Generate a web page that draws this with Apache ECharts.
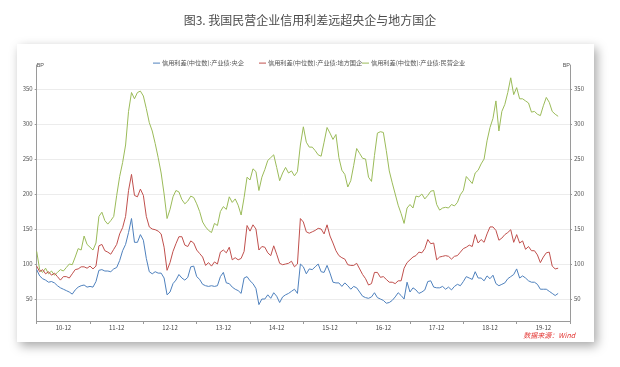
<!DOCTYPE html>
<html>
<head>
<meta charset="utf-8">
<script src="https://cdn.jsdelivr.net/npm/echarts@6/dist/echarts.min.js"></script>
<style>
html,body{margin:0;padding:0;background:#ffffff;}
#chart{width:620px;height:367px;}
</style>
</head>
<body>
<div id="chart"></div>
<script>
// ---- data ----
const tickLabels = ['10-12','11-12','12-12','13-12','14-12','15-12','16-12','17-12','18-12','19-12'];
const yTickValues = [50,100,150,200,250,300,350];
const seriesNames = ['信用利差(中位数):产业债:央企','信用利差(中位数):产业债:地方国企','信用利差(中位数):产业债:民营企业'];

const centralSOE = [92,83,79,77,74,75,73,69,66,64,62,60,57,63,67,69,70,67,68,67,75,91,92,90,90,89,93,95,105,119,
128,145,165,131,131,142,134,108,89,86,89,87,87,80,56,60,72,77,85,80,77,81,96,97,82,78,71,69,68,69,
68,69,82,88,73,72,67,64,62,58,80,82,76,72,65,42,50,50,56,51,59,54,45,53,56,58,61,64,58,100,
96,86,93,92,96,100,89,88,98,87,74,73,73,68,73,69,64,68,66,60,54,52,51,53,59,52,50,48,44,45,
48,53,59,55,50,74,60,66,63,58,60,63,75,76,67,66,66,68,64,67,63,68,71,69,75,82,80,78,89,80,
80,76,83,79,84,72,69,71,73,79,82,85,93,80,83,80,76,74,74,71,64,64,64,61,58,55,58];

const localSOE = [97,89,92,86,89,84,87,82,77,82,82,80,86,92,93,96,96,94,97,93,97,126,128,119,117,114,121,128,143,152,
168,205,228,198,196,207,198,168,153,150,149,147,143,124,91,102,118,129,139,139,127,125,133,130,120,115,110,98,102,97,
103,100,117,120,116,124,106,109,106,108,118,155,147,156,150,120,125,124,116,112,126,114,101,99,100,101,104,96,100,165,
160,146,144,146,148,151,150,143,156,140,130,119,112,109,107,99,98,98,101,93,85,79,70,72,88,88,81,82,78,74,
74,72,76,76,94,102,106,110,112,117,116,122,135,129,130,106,110,111,112,111,107,111,112,117,122,124,127,125,142,130,
135,131,143,153,153,148,134,137,142,145,149,131,142,130,133,121,125,119,119,113,102,110,116,117,97,93,94];

const privateEnt = [118,92,88,94,86,90,84,88,92,90,95,100,99,110,122,120,140,128,124,120,130,168,174,162,157,162,168,198,225,245,
270,318,345,336,345,347,340,322,302,290,272,252,230,200,165,178,196,205,203,192,186,190,197,195,186,175,160,153,148,145,
158,155,175,182,178,196,188,193,184,170,195,224,220,236,232,205,224,235,248,252,256,238,219,230,238,230,233,226,232,270,
296,274,267,267,262,256,254,274,295,287,278,285,252,234,228,210,219,241,265,258,251,250,224,218,255,287,289,288,262,233,
216,200,184,172,158,180,185,180,197,196,200,193,198,204,205,185,177,180,181,180,185,183,188,199,205,225,220,215,230,234,
243,250,276,295,308,333,290,318,328,345,366,342,352,336,336,333,330,317,318,314,312,326,338,331,318,314,311];

const categoryCount = 181;
const categories = Array.from({length: categoryCount}, (_, i) => String(i));

// ---- chart ----
const chart = echarts.init(document.getElementById('chart'), null, {renderer: 'canvas'});
const FONT = '"Noto Sans CJK SC", "Noto Sans", sans-serif';
const colors = ['#4f81bd', '#c0504d', '#9bbb59'];

function legendAt(idx, left) {
  return {
    left: left, top: 55, orient: 'horizontal',
    data: [seriesNames[idx]],
    icon: 'rect', itemWidth: 7, itemHeight: 1, itemGap: 0,
    textStyle: {fontSize: 6.2, color: '#555', fontFamily: FONT, padding: [0, 0, 0, -3]},
    selectedMode: false
  };
}

const yAxisBase = {
  type: 'value', min: 18.6, max: 384.3,
  axisLine: {show: true, lineStyle: {color: '#9a9a9a', width: 1}},
  axisTick: {show: true, length: 2, lineStyle: {color: '#9a9a9a'}, customValues: yTickValues},
  axisLabel: {fontSize: 6, color: '#555', fontFamily: FONT, margin: 4, customValues: yTickValues},
  name: 'BP', nameLocation: 'end', nameGap: 0,
};

chart.setOption({
  animation: false,
  backgroundColor: '#ffffff',
  title: {
    text: '图3. 我国民营企业信用利差远超央企与地方国企',
    left: 'center', top: 9,
    textStyle: {fontSize: 12, fontWeight: 'normal', color: '#4a4a4a', fontFamily: FONT}
  },
  graphic: [
    {type: 'rect', z: -10, silent: true,
     shape: {x: 17, y: 44, width: 577, height: 298},
     style: {fill: '#ffffff', shadowBlur: 10, shadowOffsetX: 3, shadowOffsetY: 4, shadowColor: 'rgba(0,0,0,0.35)'}},
    {type: 'text', z: 10, right: 45, top: 332,
     style: {text: '数据来源：Wind', fill: '#e3322f', fontSize: 7, fontStyle: 'italic', fontFamily: FONT}}
  ],
  legend: [legendAt(0, 148), legendAt(1, 254), legendAt(2, 357)],
  color: colors,
  grid: {left: 36.7, right: 50, top: 65, bottom: 46, containLabel: false},
  xAxis: {
    type: 'category', boundaryGap: false, data: categories,
    axisLine: {lineStyle: {color: '#9a9a9a', width: 1}},
    axisTick: {show: true, length: 3, interval: (i) => i % 18 === 0, lineStyle: {color: '#9a9a9a'}},
    axisLabel: {
      interval: (i) => i % 18 === 9,
      formatter: (v, i) => tickLabels[Math.round((i - 9) / 18)],
      fontSize: 6, color: '#444', fontFamily: FONT, margin: 4
    },
    splitLine: {show: false}
  },
  yAxis: [
    Object.assign({}, yAxisBase, {
      position: 'left',
      splitLine: {show: true, lineStyle: {color: '#ececec', width: 1}},
      nameTextStyle: {fontSize: 5.5, color: '#555', align: 'left', verticalAlign: 'middle', padding: [0, 0, 0, 0]}
    }),
    Object.assign({}, yAxisBase, {
      position: 'right',
      splitLine: {show: false},
      nameTextStyle: {fontSize: 5.5, color: '#555', align: 'right', verticalAlign: 'middle', padding: [0, 0, 0, 0]}
    })
  ],
  series: [
    {name: seriesNames[2], type: 'line', data: privateEnt, showSymbol: false, symbol: 'none', lineStyle: {width: 1, color: colors[2]}, itemStyle: {color: colors[2]}, z: 2},
    {name: seriesNames[1], type: 'line', data: localSOE, showSymbol: false, symbol: 'none', lineStyle: {width: 1, color: colors[1]}, itemStyle: {color: colors[1]}, z: 3},
    {name: seriesNames[0], type: 'line', data: centralSOE, showSymbol: false, symbol: 'none', lineStyle: {width: 1, color: colors[0]}, itemStyle: {color: colors[0]}, z: 4}
  ]
});
</script>
</body>
</html>
